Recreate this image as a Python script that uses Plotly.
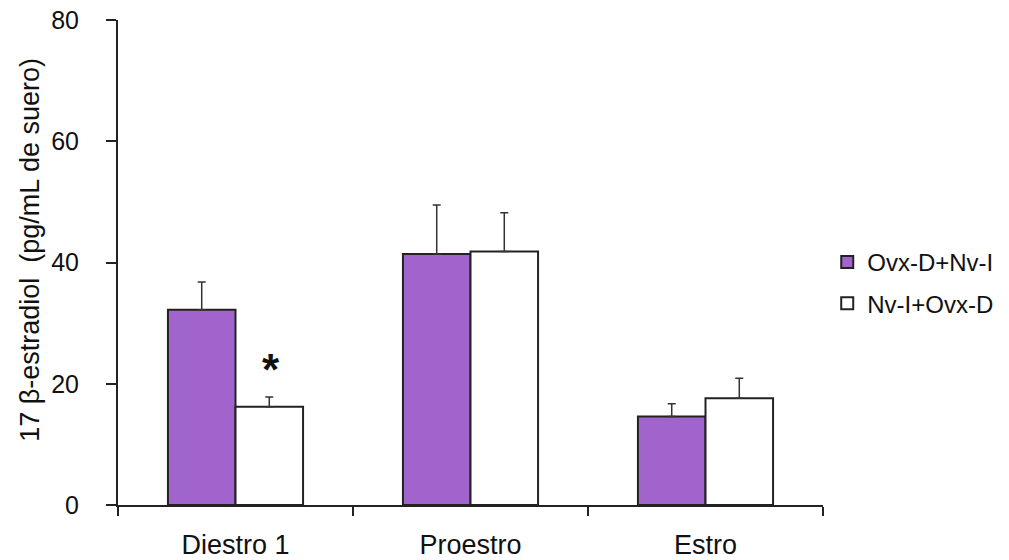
import plotly.graph_objects as go

categories = ["Diestro 1", "Proestro", "Estro"]
series_names = ["Ovx-D+Nv-I", "Nv-I+Ovx-D"]
ovx_values = [32.2, 41.4, 14.6]
ovx_err = [4.6, 8.1, 2.1]
nv_values = [16.2, 41.8, 17.6]
nv_err = [1.6, 6.4, 3.3]
y_ticks = [0, 20, 40, 60, 80]
y_title = "17 β-estradiol  (pg/mL de suero)"

FONT = "Liberation Sans, Arial, sans-serif"
EDGE = "#222222"

fig = go.Figure()
fig.add_trace(go.Bar(
    x=categories, y=ovx_values, name=series_names[0], legendgroup="a",
    marker=dict(color="#a064cc", line=dict(color=EDGE, width=2)),
    error_y=dict(type="data", array=ovx_err, arrayminus=[0, 0, 0], symmetric=False,
                 color="#333333", thickness=1.5, width=4),
))
fig.add_trace(go.Bar(
    x=categories, y=nv_values, name=series_names[1], legendgroup="b",
    marker=dict(color="#ffffff", line=dict(color=EDGE, width=2)),
    error_y=dict(type="data", array=nv_err, arrayminus=[0, 0, 0], symmetric=False,
                 color="#333333", thickness=1.5, width=4),
))

fig.add_annotation(x=categories[0], y=nv_values[0] + nv_err[0] + 4.6, text="<b>*</b>",
                   showarrow=False, xshift=35, font=dict(size=44, color="#111111", family=FONT))

fig.add_annotation(xref="paper", yref="paper", x=-0.125, y=0.526, text=y_title,
                   textangle=-90, showarrow=False, xanchor="center", yanchor="middle",
                   font=dict(size=27, color="#111111", family=FONT))

fig.update_layout(
    width=1001, height=552,
    margin=dict(l=110, r=186, t=12, b=55, autoexpand=False),
    plot_bgcolor="white", paper_bgcolor="white",
    barmode="group", bargap=0.425, bargroupgap=0,
    font=dict(family=FONT, size=24, color="#111111"),
    showlegend=True,
    legend=dict(x=1.006, y=0.458, xanchor="left", yanchor="middle",
                font=dict(size=24, family=FONT), tracegroupgap=7,
                bgcolor="rgba(0,0,0,0)"),
    xaxis=dict(showline=True, linecolor=EDGE, linewidth=2, ticks="outside",
               tickson="boundaries", ticklen=9, tickcolor=EDGE, tickwidth=2,
               tickfont=dict(size=27), showgrid=False, automargin=False,
               ticklabelstandoff=15, ticklabeloverflow="allow"),
    yaxis=dict(range=[0, 80], tickvals=y_ticks, showline=True, linecolor=EDGE, linewidth=2,
               ticks="outside", ticklen=10, tickcolor=EDGE, tickwidth=2, showgrid=False,
               zeroline=False, tickfont=dict(size=25), automargin=False,
               ticklabelstandoff=22, ticklabeloverflow="allow"),
)

fig.write_html("out.html")
